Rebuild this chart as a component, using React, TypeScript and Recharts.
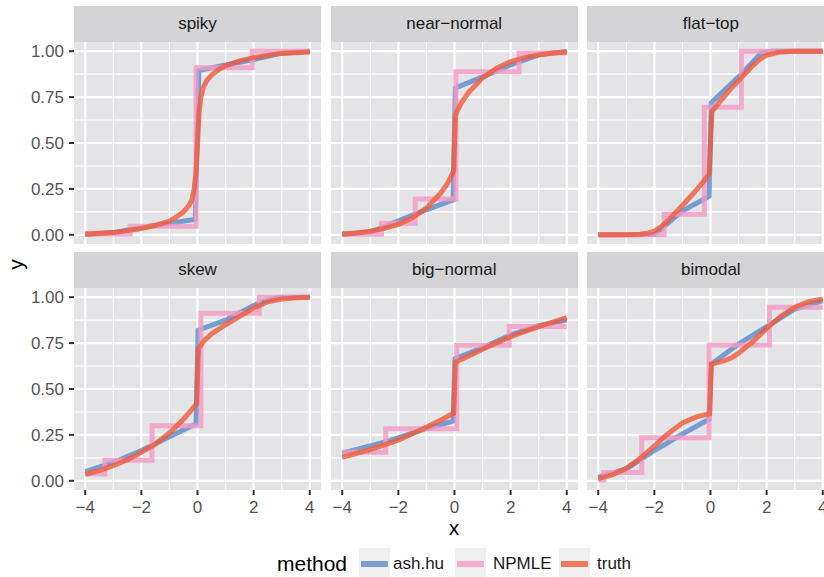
import React from 'react';
import { LineChart, Line, XAxis, YAxis, CartesianGrid } from 'recharts';

type Pt = [number, number];

// spiky
const spikyAsh: Pt[] = [[-4, 0.002], [-3, 0.012], [-2, 0.04], [-1, 0.062], [-0.08, 0.085], [0.05, 0.895], [1, 0.925], [2, 0.955], [3, 0.99], [4, 1.0]];
const spikyNpmle: Pt[] = [[-4, 0.005], [-2.4, 0.047], [-0.05, 0.91], [1.95, 1.0], [4, 1.0]];
const spikyTruth: Pt[] = [[-4, 0.004], [-3, 0.012], [-2, 0.034], [-1.5, 0.052], [-1, 0.075], [-0.75, 0.097], [-0.5, 0.125], [-0.3, 0.16], [-0.2, 0.19], [-0.12, 0.25], [-0.06, 0.33], [0, 0.5], [0.06, 0.67], [0.12, 0.75], [0.2, 0.8], [0.33, 0.84], [0.5, 0.87], [0.75, 0.9], [1, 0.92], [1.5, 0.947], [2, 0.965], [3, 0.988], [4, 0.996]];

// near-normal
const nearAsh: Pt[] = [[-4, 0.003], [-3, 0.015], [-2.5, 0.045], [-1.3, 0.12], [-0.05, 0.19], [0.03, 0.8], [1, 0.86], [2, 0.925], [3, 0.98], [4, 0.998]];
const nearNpmle: Pt[] = [[-4, 0.003], [-2.6, 0.063], [-1.4, 0.195], [0.05, 0.888], [2.3, 0.99], [4, 0.99]];
const nearTruth: Pt[] = [[-4, 0.005], [-3.5, 0.01], [-3, 0.02], [-2.5, 0.035], [-2, 0.057], [-1.5, 0.093], [-1, 0.145], [-0.5, 0.225], [-0.25, 0.28], [-0.1, 0.325], [-0.03, 0.35], [0.03, 0.65], [0.1, 0.675], [0.25, 0.72], [0.5, 0.775], [1, 0.855], [1.5, 0.907], [2, 0.943], [2.5, 0.965], [3, 0.98], [3.5, 0.99], [4, 0.995]];

// flat-top
const flatAsh: Pt[] = [[-4, 0], [-2, 0.002], [-1.85, 0.02], [-1, 0.13], [-0.05, 0.21], [0.03, 0.72], [1, 0.86], [1.5, 0.94], [1.8, 0.99], [2.2, 1.0], [4, 1.0]];
const flatNpmle: Pt[] = [[-4, 0], [-1.65, 0.112], [-0.22, 0.695], [1.1, 1.0], [4, 1.0]];
const flatTruth: Pt[] = [[-4, 0], [-3, 0.0005], [-2.5, 0.003], [-2.2, 0.01], [-2, 0.02], [-1.75, 0.045], [-1.5, 0.08], [-1.25, 0.12], [-1, 0.16], [-0.5, 0.245], [-0.25, 0.29], [-0.05, 0.33], [0.05, 0.67], [0.25, 0.71], [0.5, 0.755], [0.75, 0.8], [1, 0.84], [1.25, 0.88], [1.5, 0.92], [1.75, 0.955], [2, 0.978], [2.5, 0.996], [3, 1.0], [4, 1.0]];

// skew
const skewAsh: Pt[] = [[-4, 0.05], [-3, 0.1], [-2, 0.165], [-1, 0.24], [-0.05, 0.31], [0.02, 0.82], [1, 0.875], [2, 0.955], [2.5, 0.985], [3, 1.0], [4, 1.0]];
const skewNpmle: Pt[] = [[-4, 0.037], [-3.3, 0.112], [-1.62, 0.3], [0.12, 0.912], [2.2, 1.0], [4, 1.0]];
const skewTruth: Pt[] = [[-4, 0.036], [-3.5, 0.055], [-3, 0.082], [-2.5, 0.115], [-2, 0.155], [-1.5, 0.2], [-1, 0.26], [-0.5, 0.335], [-0.25, 0.38], [-0.03, 0.42], [0.03, 0.72], [0.25, 0.765], [0.5, 0.8], [1, 0.85], [1.5, 0.895], [2, 0.94], [2.5, 0.975], [3, 0.99], [3.5, 0.997], [4, 1.0]];

// big-normal
const bigAsh: Pt[] = [[-4, 0.15], [-2.5, 0.21], [-1, 0.285], [-0.05, 0.325], [0.02, 0.665], [1, 0.725], [2, 0.795], [3, 0.845], [4, 0.875]];
const bigNpmle: Pt[] = [[-4, 0.155], [-2.45, 0.283], [0.08, 0.738], [1.95, 0.84], [4, 0.84]];
const bigTruth: Pt[] = [[-4, 0.128], [-3, 0.17], [-2, 0.222], [-1, 0.292], [-0.5, 0.33], [-0.03, 0.368], [0.03, 0.645], [0.5, 0.68], [1, 0.716], [2, 0.785], [3, 0.84], [4, 0.888]];

// bimodal
const bimodalAsh: Pt[] = [[-4, 0.02], [-3, 0.065], [-2, 0.165], [-1, 0.255], [-0.05, 0.335], [0.02, 0.635], [1, 0.745], [2, 0.84], [3, 0.935], [4, 0.98]];
const bimodalNpmle: Pt[] = [[-4, 0.005], [-3.8, 0.045], [-2.45, 0.235], [-0.05, 0.74], [2.1, 0.945], [4, 0.945]];
const bimodalTruth: Pt[] = [[-4, 0.012], [-3.5, 0.032], [-3, 0.068], [-2.5, 0.122], [-2, 0.19], [-1.5, 0.258], [-1, 0.315], [-0.5, 0.348], [-0.03, 0.365], [0.03, 0.635], [0.5, 0.655], [0.75, 0.67], [1, 0.695], [1.5, 0.757], [2, 0.83], [2.5, 0.895], [3, 0.945], [3.5, 0.975], [4, 0.99]];

const panelNames = ['spiky', 'near\u2212normal', 'flat\u2212top', 'skew', 'big\u2212normal', 'bimodal'];
const methods = ['ash.hu', 'NPMLE', 'truth'];

const xTicks = [-4, -2, 0, 2, 4];
const xMinor = [-3, -1, 1, 3];
const yTicks = [0, 0.25, 0.5, 0.75, 1];
const yMinor = [0.125, 0.375, 0.625, 0.875];

const panels = [
  [spikyAsh, spikyNpmle, spikyTruth],
  [nearAsh, nearNpmle, nearTruth],
  [flatAsh, flatNpmle, flatTruth],
  [skewAsh, skewNpmle, skewTruth],
  [bigAsh, bigNpmle, bigTruth],
  [bimodalAsh, bimodalNpmle, bimodalTruth],
];

const COLORS = ['#5B8BCB', '#F29AC4', '#EF5A3A'];
const OPACITY = 0.8;
const FONT = '"Liberation Sans", Arial, Helvetica, sans-serif';

const colLeft = [74, 330.7, 587.4];
const rowTop = [41.5, 287.5];
const PW = 247;
const PH = 202;
const STRIP = 35.5;

const toRows = (pts: Pt[]) => pts.map(([x, y]) => ({ x, y }));
const fmtX = (v: number) => (v < 0 ? '\u2212' + Math.abs(v) : String(v));
const fmtY = (v: number) => v.toFixed(2);

const Panel = ({ idx }: { idx: number }) => {
  const row = Math.floor(idx / 3);
  const col = idx % 3;
  const showY = col === 0;
  const showX = row === 1;
  const yw = showY ? 74 : 0;
  const xh = showX ? 30 : 0;
  const [ash, npmle, truth] = panels[idx];
  return (
    <>
      <div
        style={{
          position: 'absolute',
          left: colLeft[col],
          top: rowTop[row] - STRIP,
          width: PW,
          height: STRIP,
          background: '#D4D4D6',
          color: '#1A1A1A',
          fontSize: 17,
          lineHeight: STRIP + 'px',
          textAlign: 'center',
        }}
      >
        {panelNames[idx]}
      </div>
      <div style={{ position: 'absolute', left: colLeft[col] - yw, top: rowTop[row] }}>
        <LineChart
          width={PW + yw}
          height={PH + xh}
          margin={{ top: 0, right: 0, bottom: 0, left: 0 }}
          style={{ overflow: 'visible' }}
        >
          <CartesianGrid fill="#E4E4E6" fillOpacity={1} stroke="#FFFFFF" strokeWidth={1.1} verticalValues={xMinor} horizontalValues={yMinor} />
          <CartesianGrid stroke="#FFFFFF" strokeWidth={2.2} verticalValues={xTicks} horizontalValues={yTicks} />
          <XAxis
            type="number"
            dataKey="x"
            domain={[-4.4, 4.4]}
            ticks={xTicks}
            interval={0}
            hide={!showX}
            height={xh}
            axisLine={false}
            tickLine={{ stroke: '#333333', strokeWidth: 2 }}
            tickSize={5}
            tickMargin={6}
            tick={{ fontSize: 17, fill: '#555555', fontFamily: FONT }}
            tickFormatter={fmtX}
            allowDataOverflow
          />
          <YAxis
            type="number"
            dataKey="y"
            domain={[-0.05, 1.05]}
            ticks={yTicks}
            interval={0}
            hide={!showY}
            width={yw}
            axisLine={false}
            tickLine={{ stroke: '#333333', strokeWidth: 2 }}
            tickSize={5}
            tickMargin={5}
            tick={{ fontSize: 17, fill: '#555555', fontFamily: FONT }}
            tickFormatter={fmtY}
            allowDataOverflow
          />
          <Line data={toRows(ash)} dataKey="y" type="linear" stroke={COLORS[0]} strokeOpacity={OPACITY} strokeWidth={5} dot={false} activeDot={false} isAnimationActive={false} />
          <Line data={toRows(npmle)} dataKey="y" type="stepAfter" stroke={COLORS[1]} strokeOpacity={OPACITY} strokeWidth={5} dot={false} activeDot={false} isAnimationActive={false} />
          <Line data={toRows(truth)} dataKey="y" type="linear" stroke={COLORS[2]} strokeOpacity={OPACITY} strokeWidth={5} dot={false} activeDot={false} isAnimationActive={false} />
        </LineChart>
      </div>
    </>
  );
};

const keyLeft = [359, 455, 559];
const labelLeft = [393, 493, 597];

export default function App() {
  return (
    <div
      style={{
        position: 'absolute',
        left: 0,
        top: 0,
        width: 824,
        height: 577,
        overflow: 'hidden',
        background: '#FFFFFF',
        fontFamily: FONT,
      }}
    >
      {panels.map((_, i) => (
        <Panel key={i} idx={i} />
      ))}
      <div style={{ position: 'absolute', left: 444, top: 517, width: 20, textAlign: 'center', fontSize: 21, lineHeight: '21px', color: '#000' }}>x</div>
      <div
        style={{
          position: 'absolute',
          left: 5,
          top: 254,
          width: 20,
          textAlign: 'center',
          fontSize: 21,
          lineHeight: '21px',
          color: '#000',
          transform: 'rotate(-90deg)',
        }}
      >
        y
      </div>
      <div style={{ position: 'absolute', left: 277, top: 552, fontSize: 21, lineHeight: '24px', color: '#000' }}>method</div>
      {methods.map((m, i) => (
        <React.Fragment key={m}>
          <svg style={{ position: 'absolute', left: keyLeft[i], top: 548 }} width={31} height={32}>
            <rect x={0} y={0} width={31} height={32} fill="#EFEFEF" />
            <line x1={2} x2={29} y1={16} y2={16} stroke={COLORS[i]} strokeOpacity={OPACITY} strokeWidth={6} />
          </svg>
          <div style={{ position: 'absolute', left: labelLeft[i], top: 554, fontSize: 17, lineHeight: '20px', color: '#1A1A1A' }}>{m}</div>
        </React.Fragment>
      ))}
    </div>
  );
}
